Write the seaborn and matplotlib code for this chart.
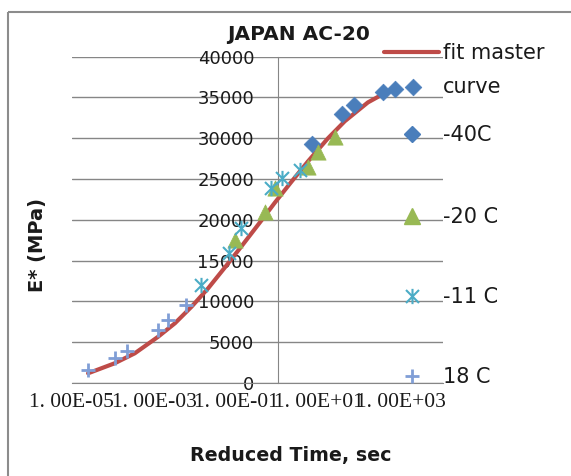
import matplotlib
matplotlib.use("Agg")
import matplotlib.pyplot as plt
import seaborn as sns
from matplotlib.lines import Line2D
from matplotlib.path import Path

# fit master curve
curve_t = [2.5e-5, 1.1e-4, 3.4e-4, 1.26e-3, 3.2e-3, 8.1e-3, 0.0205, 0.052, 0.13,
           0.41, 0.85, 2.1, 5.5, 16.6, 42.7, 155, 355]
curve_e = [1190, 2415, 3640, 5680, 7320, 9350, 11610, 14150, 16710,
           19980, 22100, 24600, 27200, 30000, 32100, 34400, 35400]

# measured points per temperature
m40_t = [6.68, 35.7, 71.8, 362, 708, 1914]
m40_e = [29300, 32980, 34080, 35620, 36050, 36330]
m20_t = [0.0935, 0.485, 0.873, 5.45, 9.5, 24.2]
m20_e = [17530, 21000, 23850, 26520, 28360, 30200]
m11_t = [0.0136, 0.065, 0.132, 0.706, 1.28, 3.43]
m11_e = [12000, 15900, 19060, 23870, 25100, 26110]
p18_t = [2.44e-5, 1.12e-4, 2.15e-4, 1.26e-3, 2.2e-3, 6.1e-3]
p18_e = [1600, 3030, 3960, 6500, 7720, 9560]

x_ticks = [1e-5, 1e-3, 1e-1, 1e1, 1e3]
x_labels = ["1. 00E-05", "1. 00E-03", "1. 00E-01", "1. 00E+01", "1. 00E+03"]
y_ticks = list(range(0, 40001, 5000))

sns.set_style("white")
plt.rcParams["font.family"] = ["DejaVu Sans"]

W, H = 571, 476
fig = plt.figure(figsize=(W / 100, H / 100), dpi=100)
ax = fig.add_axes([71.7 / W, 1 - 383 / H, (442.5 - 71.7) / W, (383 - 56.7) / H])

red = "#BE4B48"
blue = "#4A7EBB"
green = "#98B954"
aqua = "#4BACC6"
lblue = "#809ED6"
grey = "#868686"
txt = "#1A1A1A"

star = Path([(0, -1), (0, 1), (-0.85, -0.85), (0.85, 0.85), (-0.85, 0.85), (0.85, -0.85)],
            [Path.MOVETO, Path.LINETO, Path.MOVETO, Path.LINETO, Path.MOVETO, Path.LINETO])

sns.lineplot(x=curve_t, y=curve_e, ax=ax, color=red, lw=3, sort=False, zorder=3)
sns.scatterplot(x=m40_t, y=m40_e, ax=ax, marker="D", s=72, color=blue, edgecolor=blue, lw=0.5, zorder=4)
sns.scatterplot(x=m20_t, y=m20_e, ax=ax, marker="^", s=121, color=green, edgecolor=green, lw=0.5, zorder=5)
sns.scatterplot(x=m11_t, y=m11_e, ax=ax, marker=star, s=121, color=aqua, edgecolor=aqua, lw=1.5, zorder=6)
sns.scatterplot(x=p18_t, y=p18_e, ax=ax, marker="+", s=100, color=lblue, lw=2, zorder=7)

ax.set_xscale("log")
ax.set_xlim(1e-5, 1e4)
ax.set_ylim(0, 40000)

# y axis crosses at t = 1 (set before tick labels, it resets the ticks)
for s in ["top", "right"]:
    ax.spines[s].set_visible(False)
ax.spines["left"].set_position(("data", 1))
ax.spines["left"].set_color(grey)
ax.spines["bottom"].set_color(grey)

ax.set_xticks(x_ticks)
ax.set_xticklabels(x_labels)
ax.minorticks_off()
ax.set_yticks(y_ticks)
ax.set_yticklabels([str(v) for v in y_ticks])
ax.tick_params(axis="x", direction="out", length=5, width=1, color=grey, pad=2,
               labelsize=15.5, labelcolor=txt, labelfontfamily="Liberation Serif")
ax.tick_params(axis="y", length=0, pad=17, labelsize=13, labelcolor=txt)
ax.yaxis.grid(True, color=grey, lw=1)
ax.xaxis.grid(False)
ax.set_axisbelow(True)
ax.set_xlabel("")
ax.set_ylabel("")

fig.text(298.6 / W, 1 - 35 / H, "JAPAN AC-20", ha="center", va="center", fontsize=14.5,
         fontweight="bold", color=txt)
fig.text(291 / W, 1 - 455 / H, "Reduced Time, sec", ha="center", va="center", fontsize=13.7,
         fontweight="bold", color=txt)
fig.text(37.5 / W, 1 - 245 / H, "E* (MPa)", ha="center", va="center", rotation=90, fontsize=14,
         fontweight="bold", color=txt)

# legend, one key per row as in the source
keys = [
    (Line2D([], [], color=red, lw=3), "fit master", 53.3),
    (Line2D([], [], ls="", marker="D", ms=8.5, color=blue), "-40C", 135),
    (Line2D([], [], ls="", marker="^", ms=11, color=green), "-20 C", 217),
    (Line2D([], [], ls="", marker=star, ms=11, mew=1.5, color=aqua), "-11 C", 297),
    (Line2D([], [], ls="", marker="+", ms=10, mew=2, color=lblue), "18 C", 377),
]
for handle, label, ypx in keys:
    leg = fig.legend([handle], [label], loc="center left", bbox_to_anchor=(384 / W, 1 - ypx / H),
                     frameon=False, borderpad=0, borderaxespad=0, handlelength=2.64,
                     handletextpad=0.17, fontsize=15)
    for t in leg.get_texts():
        t.set_color(txt)
fig.text(443 / W, 1 - 87.3 / H, "curve", ha="left", va="center", fontsize=15, color=txt)

# chart area border: left edge and top edge only
top = 1 - 11.7 / H
fig.add_artist(Line2D([8 / W, 8 / W], [0.0, top], transform=fig.transFigure,
                      color="#8C8C8C", lw=1.5, solid_capstyle="butt"))
fig.add_artist(Line2D([8 / W, 1.0], [top, top], transform=fig.transFigure,
                      color="#8C8C8C", lw=1.5, solid_capstyle="butt"))

fig.savefig("out.png", dpi=100)
